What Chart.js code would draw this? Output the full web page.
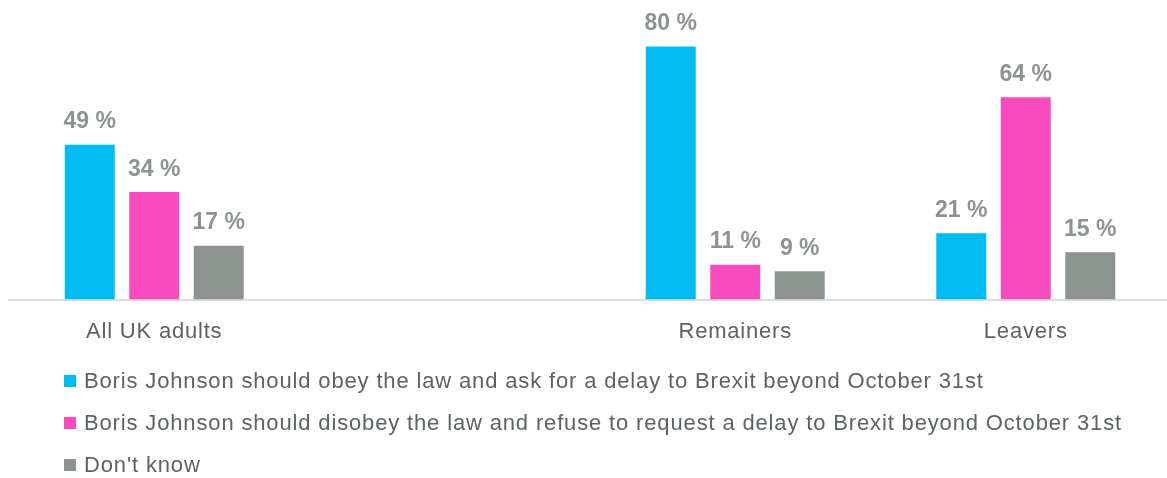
<!DOCTYPE html>
<html>
<head>
<meta charset="utf-8">
<script src="https://cdn.jsdelivr.net/npm/chart.js@4.4.1/dist/chart.umd.min.js"></script>
<style>
  html, body { margin: 0; padding: 0; background: #fff; overflow: hidden; }
  #wrap { position: absolute; left: 0; top: 0; width: 1171px; height: 370px; }
  #legend { position: absolute; left: 64px; top: 360px; font-family: "Liberation Sans", Arial, sans-serif; font-size: 22px; letter-spacing: 0.85px; color: #5d6364; }
  .item { height: 42px; line-height: 42px; display: flex; align-items: center; }
  .box { width: 12px; height: 12px; margin-right: 8px; flex: none; }
</style>
</head>
<body>
<div id="wrap"><canvas id="chart"></canvas></div>
<div id="legend"></div>
<script>
// Data
const categories = ['All UK adults', '', 'Remainers', 'Leavers'];
const seriesNames = [
  'Boris Johnson should obey the law and ask for a delay to Brexit beyond October 31st',
  'Boris Johnson should disobey the law and refuse to request a delay to Brexit beyond October 31st',
  "Don't know"
];
const obeyValues = [49, null, 80, 21];
const disobeyValues = [34, null, 11, 64];
const dontKnowValues = [17, null, 9, 15];

const colors = ['#00bcf2', '#f84bbd', '#8d9490'];
const labelColor = '#8d9490';
const textColor = '#5d6364';
const fontFamily = '"Liberation Sans", Arial, sans-serif';

// slightly wider spacing for the axis text, like the original
const spacing = {
  id: 'spacing',
  beforeDraw(chart) { chart.ctx.letterSpacing = '0.8px'; },
  afterDraw(chart) { chart.ctx.letterSpacing = '0px'; }
};

// value labels above bars
const barLabels = {
  id: 'barLabels',
  afterDatasetsDraw(chart) {
    const ctx = chart.ctx;
    ctx.save();
    ctx.letterSpacing = '0px';
    ctx.font = 'bold 23px ' + fontFamily;
    ctx.fillStyle = labelColor;
    ctx.textAlign = 'center';
    ctx.textBaseline = 'alphabetic';
    chart.data.datasets.forEach((ds, i) => {
      chart.getDatasetMeta(i).data.forEach((bar, j) => {
        const v = ds.data[j];
        if (v === null || v === undefined) return;
        ctx.fillText(v + ' %', bar.x, bar.y - 16.5);
      });
    });
    ctx.restore();
  }
};

const ctx = document.getElementById('chart').getContext('2d');
new Chart(ctx, {
  type: 'bar',
  data: {
    labels: categories,
    datasets: [
      { label: seriesNames[0], data: obeyValues, backgroundColor: colors[0] },
      { label: seriesNames[1], data: disobeyValues, backgroundColor: colors[1] },
      { label: seriesNames[2], data: dontKnowValues, backgroundColor: colors[2] }
    ].map(d => Object.assign(d, { categoryPercentage: 0.666, barPercentage: 0.775 }))
  },
  options: {
    responsive: true,
    maintainAspectRatio: false,
    animation: false,
    layout: { padding: { left: 9, right: 0, top: 15, bottom: 6 } },
    plugins: {
      legend: { display: false },
      tooltip: { enabled: false }
    },
    scales: {
      x: {
        grid: { display: false, drawTicks: false },
        border: { display: true, color: '#dedede', width: 2 },
        ticks: { color: textColor, padding: 19, font: { family: fontFamily, size: 22 } }
      },
      y: {
        display: false,
        min: 0,
        max: 90
      }
    }
  },
  plugins: [spacing, barLabels]
});

// legend
const legend = document.getElementById('legend');
seriesNames.forEach((name, i) => {
  const row = document.createElement('div');
  row.className = 'item';
  const box = document.createElement('span');
  box.className = 'box';
  box.style.background = colors[i];
  const txt = document.createElement('span');
  txt.textContent = name;
  row.appendChild(box);
  row.appendChild(txt);
  legend.appendChild(row);
});
</script>
</body>
</html>
